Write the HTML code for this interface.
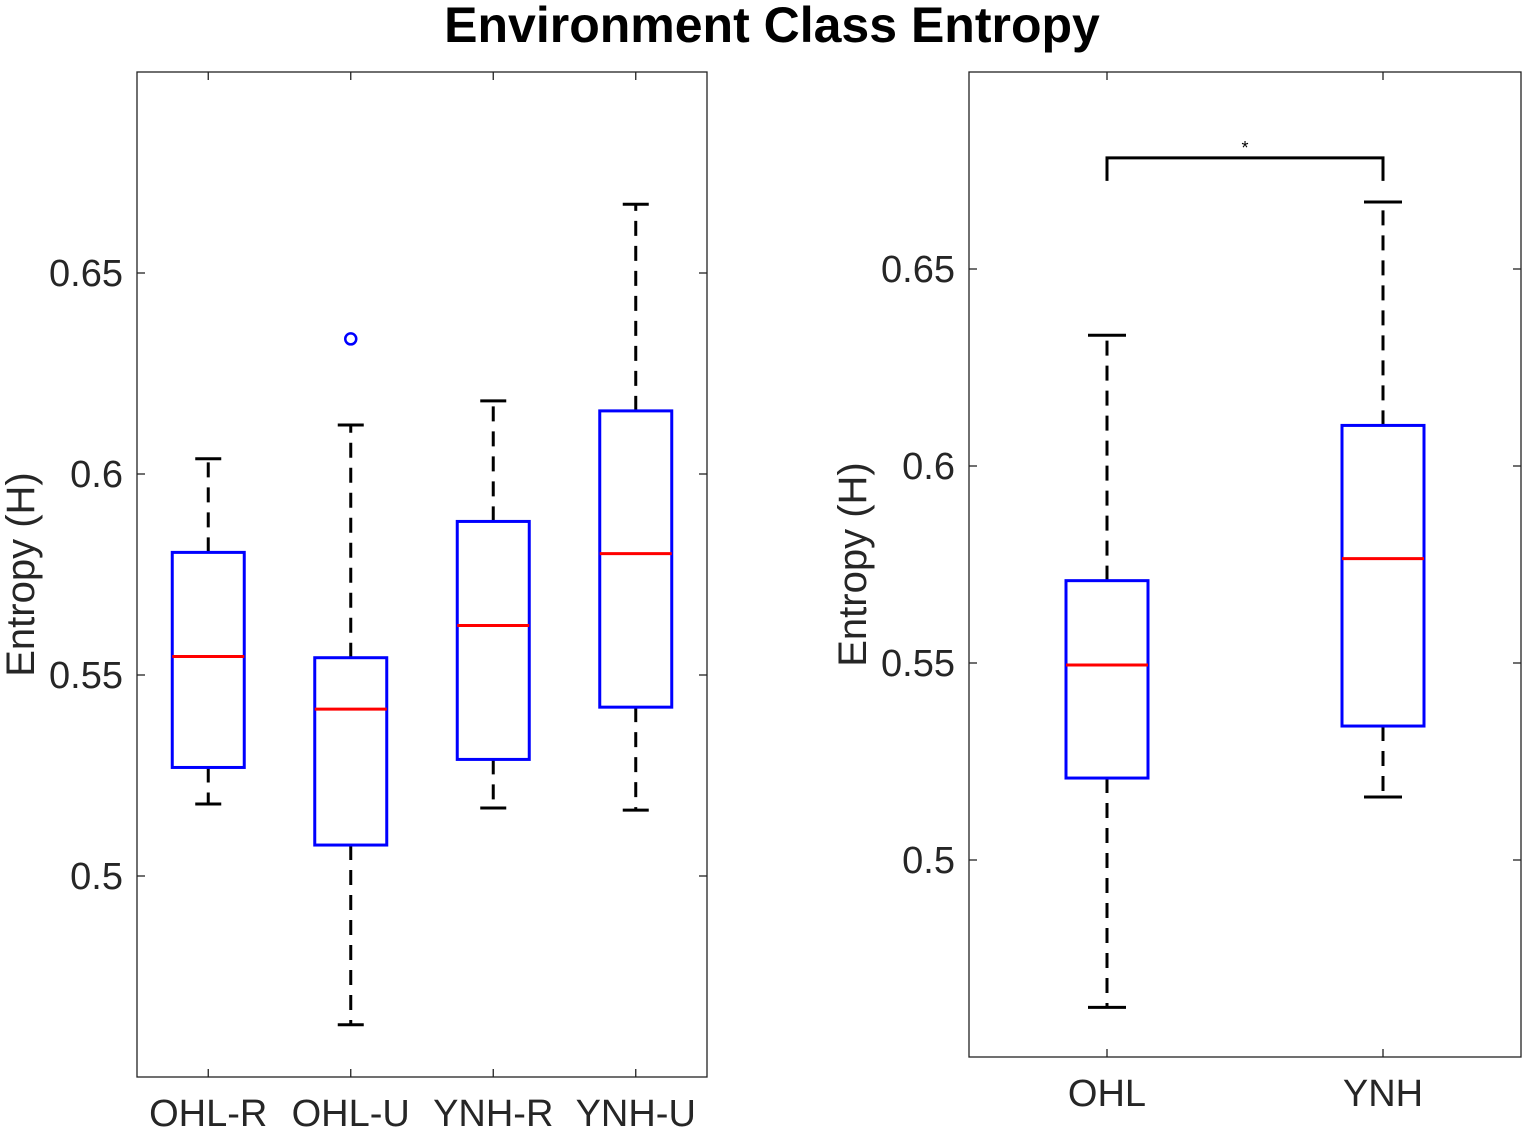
<!DOCTYPE html>
<html><head><meta charset="utf-8"><style>
html,body{margin:0;padding:0;background:#fff;}
svg{display:block;font-family:"Liberation Sans",Arial,sans-serif;}
</style></head><body>
<svg id="fig" width="1525" height="1131" viewBox="0 0 1525 1131">
<text x="772" y="42" text-anchor="middle" font-size="50" font-weight="bold" fill="#000">Environment Class Entropy</text>
</svg>
<script>
// Left panel data
const leftCategories = ["OHL-R","OHL-U","YNH-R","YNH-U"];
const leftWhiskerHigh = [0.6038,0.6122,0.6182,0.6671];
const leftQ3 = [0.5805,0.5543,0.5882,0.6157];
const leftMedian = [0.5546,0.5415,0.5623,0.5802];
const leftQ1 = [0.5270,0.5077,0.5290,0.5420];
const leftWhiskerLow = [0.5179,0.4630,0.5169,0.5164];
const leftOutliers = [[2,0.6336]];
// Right panel data
const rightCategories = ["OHL","YNH"];
const rightWhiskerHigh = [0.6332,0.6670];
const rightQ3 = [0.5709,0.6103];
const rightMedian = [0.5495,0.5765];
const rightQ1 = [0.5208,0.5340];
const rightWhiskerLow = [0.4626,0.5160];
const sigBracketY = [0.6782];
const yTicks = [0.5,0.55,0.6,0.65];
const yTickLabels = ["0.5","0.55","0.6","0.65"];
const yMin = 0.45, yMax = 0.70;

const NS = "http://www.w3.org/2000/svg";
const svg = document.getElementById('fig');
function mk(tag, attrs, parent){
  const e = document.createElementNS(NS, tag);
  for (const k in attrs) e.setAttribute(k, attrs[k]);
  (parent||svg).appendChild(e);
  return e;
}

function panel(opt){
  const {x0,x1,y0,y1,cats,wh,q3,med,q1,wl,boxHW,capHW,name,labelX} = opt;
  const g = mk('g',{});
  
  
  const n = cats.length;
  const xs = c => x0 + (c + 0.5) / n * (x1 - x0);
  const ys = v => y1 - (v - yMin) / (yMax - yMin) * (y1 - y0);
  const frame = mk('rect',{x:x0,y:y0,width:x1-x0,height:y1-y0,fill:'none',stroke:'#222','stroke-width':1.3},g);
  
  
  yTicks.forEach((t,i)=>{
    const y = ys(t);
    mk('line',{x1:x0,x2:x0+8,y1:y,y2:y,stroke:'#222','stroke-width':1.3},g);
    mk('line',{x1:x1,x2:x1-8,y1:y,y2:y,stroke:'#222','stroke-width':1.3},g);
    const tx = mk('text',{x:x0-14,y:y+13,'text-anchor':'end','font-size':38,fill:'#262626'},g);
    tx.textContent = yTickLabels[i];
    
    
  });
  cats.forEach((c,i)=>{
    const x = xs(i);
    mk('line',{x1:x,x2:x,y1:y1,y2:y1-8,stroke:'#222','stroke-width':1.3},g);
    mk('line',{x1:x,x2:x,y1:y0,y2:y0+8,stroke:'#222','stroke-width':1.3},g);
    const tx = mk('text',{x:x,y:y1+49,'text-anchor':'middle','font-size':38,fill:'#262626'},g);
    tx.textContent = c;
    
    
  });
  const cy = (y0+y1)/2;
  const lx = labelX;
  const yl = mk('text',{x:lx,y:cy,'text-anchor':'middle','font-size':40,fill:'#262626',transform:`rotate(-90 ${lx} ${cy})`},g);
  yl.textContent = 'Entropy (H)';
  
  
  cats.forEach((c,i)=>{
    const x = xs(i);
    const bg = mk('g',{},g);
    
    
    const dash = {stroke:'#000','stroke-width':3,'stroke-dasharray':'15 10'};
    mk('line',Object.assign({x1:x,x2:x,y1:ys(q3[i]),y2:ys(wh[i])},dash),bg);
    mk('line',Object.assign({x1:x,x2:x,y1:ys(q1[i]),y2:ys(wl[i])},dash),bg);
    mk('line',{x1:x-capHW,x2:x+capHW,y1:ys(wh[i]),y2:ys(wh[i]),stroke:'#000','stroke-width':3},bg);
    mk('line',{x1:x-capHW,x2:x+capHW,y1:ys(wl[i]),y2:ys(wl[i]),stroke:'#000','stroke-width':3},bg);
    mk('rect',{x:x-boxHW,y:ys(q3[i]),width:2*boxHW,height:ys(q1[i])-ys(q3[i]),fill:'#fff',stroke:'#0000ff','stroke-width':3},bg);
    mk('line',{x1:x-boxHW,x2:x+boxHW,y1:ys(med[i]),y2:ys(med[i]),stroke:'#ff0000','stroke-width':3},bg);
  });
  return {xs,ys,g};
}

const L = panel({x0:137,x1:707,y0:72,y1:1077,cats:leftCategories,wh:leftWhiskerHigh,q3:leftQ3,med:leftMedian,q1:leftQ1,wl:leftWhiskerLow,boxHW:36,capHW:13,name:'left-panel',labelX:34});
leftOutliers.forEach(o=>{
  const c = mk('circle',{cx:L.xs(o[0]-1),cy:L.ys(o[1]),r:5.5,fill:'none',stroke:'#0000ff','stroke-width':2.5},L.g);
  
  
});

const R = panel({x0:969,x1:1521,y0:72,y1:1057,cats:rightCategories,wh:rightWhiskerHigh,q3:rightQ3,med:rightMedian,q1:rightQ1,wl:rightWhiskerLow,boxHW:41,capHW:19,name:'right-panel',labelX:866});
const by = R.ys(sigBracketY[0]);
const br = mk('path',{d:`M${R.xs(0)} ${by+23} V${by} H${R.xs(1)} V${by+23}`,fill:'none',stroke:'#000','stroke-width':3},R.g);


const st = mk('text',{x:(R.xs(0)+R.xs(1))/2,y:by-4,'text-anchor':'middle','font-size':18,fill:'#000'},R.g);
st.textContent = '*';


</script>
</body></html>
